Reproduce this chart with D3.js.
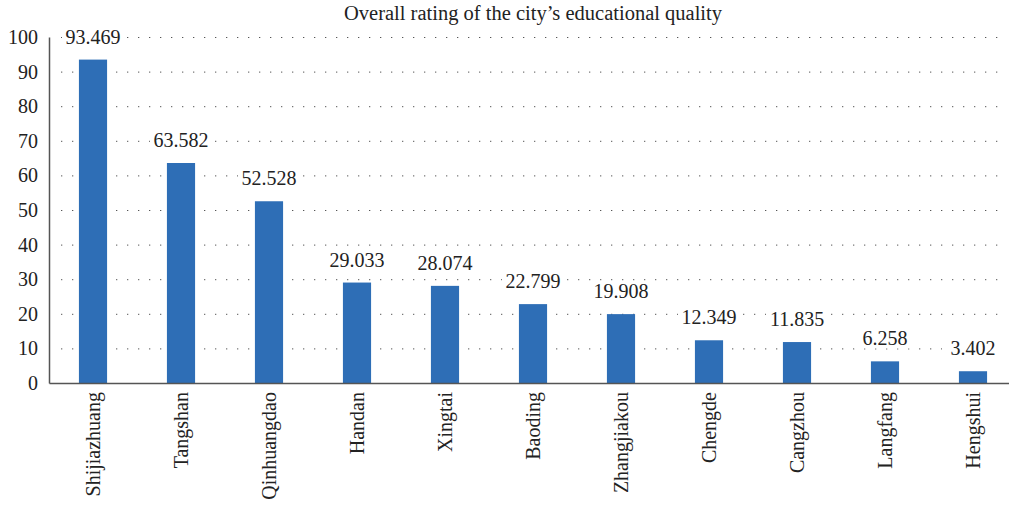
<!DOCTYPE html>
<html>
<head>
<meta charset="utf-8">
<script src="https://cdn.jsdelivr.net/npm/d3@7"></script>
<style>
  body { margin: 0; background: #fff; }
  svg { font-family: 'Liberation Serif', 'DejaVu Serif', serif; }
  .tick text { font-size: 20px; fill: #222; }
  .grid line { stroke: #555; stroke-dasharray: 1.3 9.7; }
</style>
</head>
<body>
<svg id="chart"></svg>
<script>
// data
var cities = ["Shijiazhuang", "Tangshan", "Qinhuangdao", "Handan", "Xingtai", "Baoding",
              "Zhangjiakou", "Chengde", "Cangzhou", "Langfang", "Hengshui"];
var ratings = [93.469, 63.582, 52.528, 29.033, 28.074, 22.799, 19.908, 12.349, 11.835, 6.258, 3.402];
var yTicks = [0, 10, 20, 30, 40, 50, 60, 70, 80, 90, 100];
var title = "Overall rating of the city\u2019s educational quality";

var svgWidth = 1009, svgHeight = 511;
var margin = {top: 37, right: 0, bottom: 128, left: 49};
var chartHeight = svgHeight - margin.top - margin.bottom;
var serif = "'Liberation Serif', 'DejaVu Serif', serif";

var svg = d3.select("#chart").attr("width", svgWidth).attr("height", svgHeight);

var x_scale = d3.scaleBand().domain(cities).range([0, 968]).paddingInner(0.68).paddingOuter(0.34);
var y_scale = d3.scaleLinear().domain([0, 100]).range([chartHeight, 0]);

var g = svg.append("g").attr("transform", "translate(" + margin.left + "," + margin.top + ")");

// dotted gridlines
g.append("g").attr("class", "grid")
  .selectAll("line")
  .data(yTicks.filter(function(d){ return d > 0; }))
  .enter().append("line")
  .attr("x1", 12).attr("x2", 958)
  .attr("y1", function(d){ return y_scale(d) + 0.5; })
  .attr("y2", function(d){ return y_scale(d) + 0.5; });

// bars
g.append("g").selectAll("rect")
  .data(cities)
  .enter().append("rect")
  .attr("x", function(d){ return x_scale(d); })
  .attr("width", x_scale.bandwidth())
  .attr("y", function(d, i){ return y_scale(ratings[i]); })
  .attr("height", function(d, i){ return chartHeight - y_scale(ratings[i]); })
  .attr("fill", "#2E6EB6");

// value labels (white box behind so gridline dots stop at the text)
var labels = g.append("g").selectAll("g")
  .data(cities)
  .enter().append("g")
  .attr("transform", function(d, i){
    return "translate(" + (x_scale(d) + x_scale.bandwidth() / 2) + "," + (y_scale(ratings[i]) - 16) + ")";
  });
labels.append("rect")
  .attr("x", -31).attr("y", -15).attr("width", 62).attr("height", 18)
  .attr("fill", "#fff");
labels.append("text")
  .attr("text-anchor", "middle")
  .attr("font-size", 20)
  .attr("fill", "#222")
  .text(function(d, i){ return ratings[i].toFixed(3); });

// y axis
g.append("g")
  .call(d3.axisLeft(y_scale).tickValues(yTicks).tickSize(0).tickPadding(11))
  .attr("font-family", serif)
  .call(function(a){ a.select(".domain").attr("stroke", "#555").attr("stroke-width", 1.5); });

// x axis
g.append("g")
  .attr("transform", "translate(0," + chartHeight + ")")
  .call(d3.axisBottom(x_scale).tickSize(0).tickPadding(0).tickSizeOuter(0))
  .attr("font-family", serif)
  .call(function(a){
    a.select(".domain").attr("stroke", "#555").attr("stroke-width", 1.5);
    a.selectAll("text")
      .attr("transform", "rotate(-90)")
      .attr("text-anchor", "end")
      .attr("x", -9).attr("y", 0).attr("dy", "0.35em");
  });

// title
svg.append("text")
  .attr("x", 533).attr("y", 20)
  .attr("text-anchor", "middle")
  .attr("font-size", 20.5)
  .attr("fill", "#222")
  .text(title);
</script>
</body>
</html>
